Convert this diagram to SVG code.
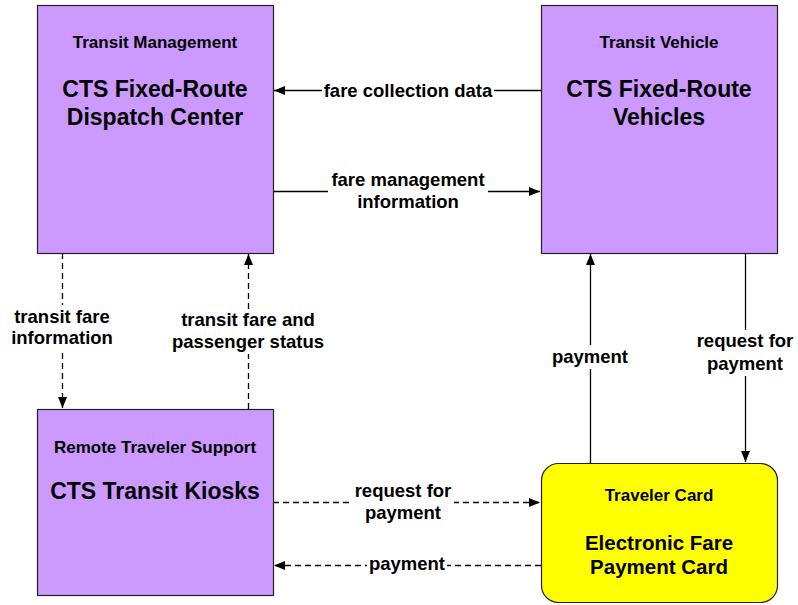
<svg xmlns="http://www.w3.org/2000/svg" width="798" height="605" viewBox="0 0 798 605">
<defs>
<marker id="ah" markerUnits="userSpaceOnUse" markerWidth="12" markerHeight="10" refX="11" refY="4.5" orient="auto">
<path d="M0,0 L11,4.5 L0,9 z" fill="#000"/>
</marker>
<style>
.box{fill:#CC99FF;stroke:#222;stroke-width:1.2}
.card{fill:#FFFF00;stroke:#222;stroke-width:1.2}
.sub{font-family:"Liberation Sans",Arial,sans-serif;font-weight:bold;font-size:17px;text-anchor:middle;fill:#000}
.ttl{font-family:"Liberation Sans",Arial,sans-serif;font-weight:bold;font-size:23px;text-anchor:middle;fill:#000}
.ttl2{font-family:"Liberation Sans",Arial,sans-serif;font-weight:bold;font-size:20.5px;text-anchor:middle;fill:#000}
.lbl{font-family:"Liberation Sans",Arial,sans-serif;font-weight:bold;font-size:18.5px;text-anchor:middle;fill:#000}
.ln{stroke:#000;stroke-width:1.3;fill:none;marker-end:url(#ah)}
.dash{stroke-dasharray:6,4}
.bg{fill:#fff}
</style>
</defs>
<rect width="798" height="605" fill="#fff"/>
<g id="connectors">
<line class="ln" x1="541" y1="90.5" x2="274" y2="90.5"/>
<line class="ln" x1="273" y1="191.5" x2="540" y2="191.5"/>
<line class="ln dash" x1="62.5" y1="253" x2="62.5" y2="408"/>
<line class="ln dash" x1="248.5" y1="409" x2="248.5" y2="254"/>
<line class="ln" x1="590.5" y1="463" x2="590.5" y2="254"/>
<line class="ln" x1="745.5" y1="253" x2="745.5" y2="462"/>
<line class="ln dash" x1="273" y1="502.5" x2="540" y2="502.5"/>
<line class="ln dash" x1="541" y1="565.5" x2="274" y2="565.5"/>
<rect class="bg" x="322" y="80" width="172" height="22"/>
<text class="lbl" x="408" y="97">fare collection data</text>
<rect class="bg" x="328" y="170" width="160" height="42"/>
<text class="lbl" x="408" y="186">fare management</text>
<text class="lbl" x="408" y="208">information</text>
<rect class="bg" x="12" y="305" width="102" height="44"/>
<text class="lbl" x="62" y="323">transit fare</text>
<text class="lbl" x="62" y="344">information</text>
<rect class="bg" x="170" y="309" width="158" height="45"/>
<text class="lbl" x="248" y="326">transit fare and</text>
<text class="lbl" x="248" y="348">passenger status</text>
<rect class="bg" x="550" y="345" width="80" height="24"/>
<text class="lbl" x="590" y="363">payment</text>
<rect class="bg" x="694" y="330" width="102" height="46"/>
<text class="lbl" x="745" y="347">request for</text>
<text class="lbl" x="745" y="370">payment</text>
<rect class="bg" x="352" y="480" width="102" height="44"/>
<text class="lbl" x="403" y="497">request for</text>
<text class="lbl" x="403" y="519">payment</text>
<rect class="bg" x="367" y="553" width="80" height="24"/>
<text class="lbl" x="407" y="570">payment</text>
</g>
<g id="transit-management">
<rect class="box" x="37.5" y="5.5" width="236" height="248"/>
<text class="sub" x="155" y="48">Transit Management</text>
<text class="ttl" x="155" y="97">CTS Fixed-Route</text>
<text class="ttl" x="155" y="125">Dispatch Center</text>
</g>
<g id="transit-vehicle">
<rect class="box" x="541.5" y="5.5" width="236" height="248"/>
<text class="sub" x="659" y="48">Transit Vehicle</text>
<text class="ttl" x="659" y="97">CTS Fixed-Route</text>
<text class="ttl" x="659" y="125">Vehicles</text>
</g>
<g id="remote-traveler-support">
<rect class="box" x="37.5" y="409.5" width="236" height="186"/>
<text class="sub" x="155" y="453">Remote Traveler Support</text>
<text class="ttl" x="155" y="499">CTS Transit Kiosks</text>
</g>
<g id="traveler-card">
<rect class="card" x="541.5" y="463.5" width="236" height="139" rx="17" ry="17"/>
<text class="sub" x="659" y="501">Traveler Card</text>
<text class="ttl2" x="659" y="550">Electronic Fare</text>
<text class="ttl2" x="659" y="574">Payment Card</text>
</g>
</svg>
